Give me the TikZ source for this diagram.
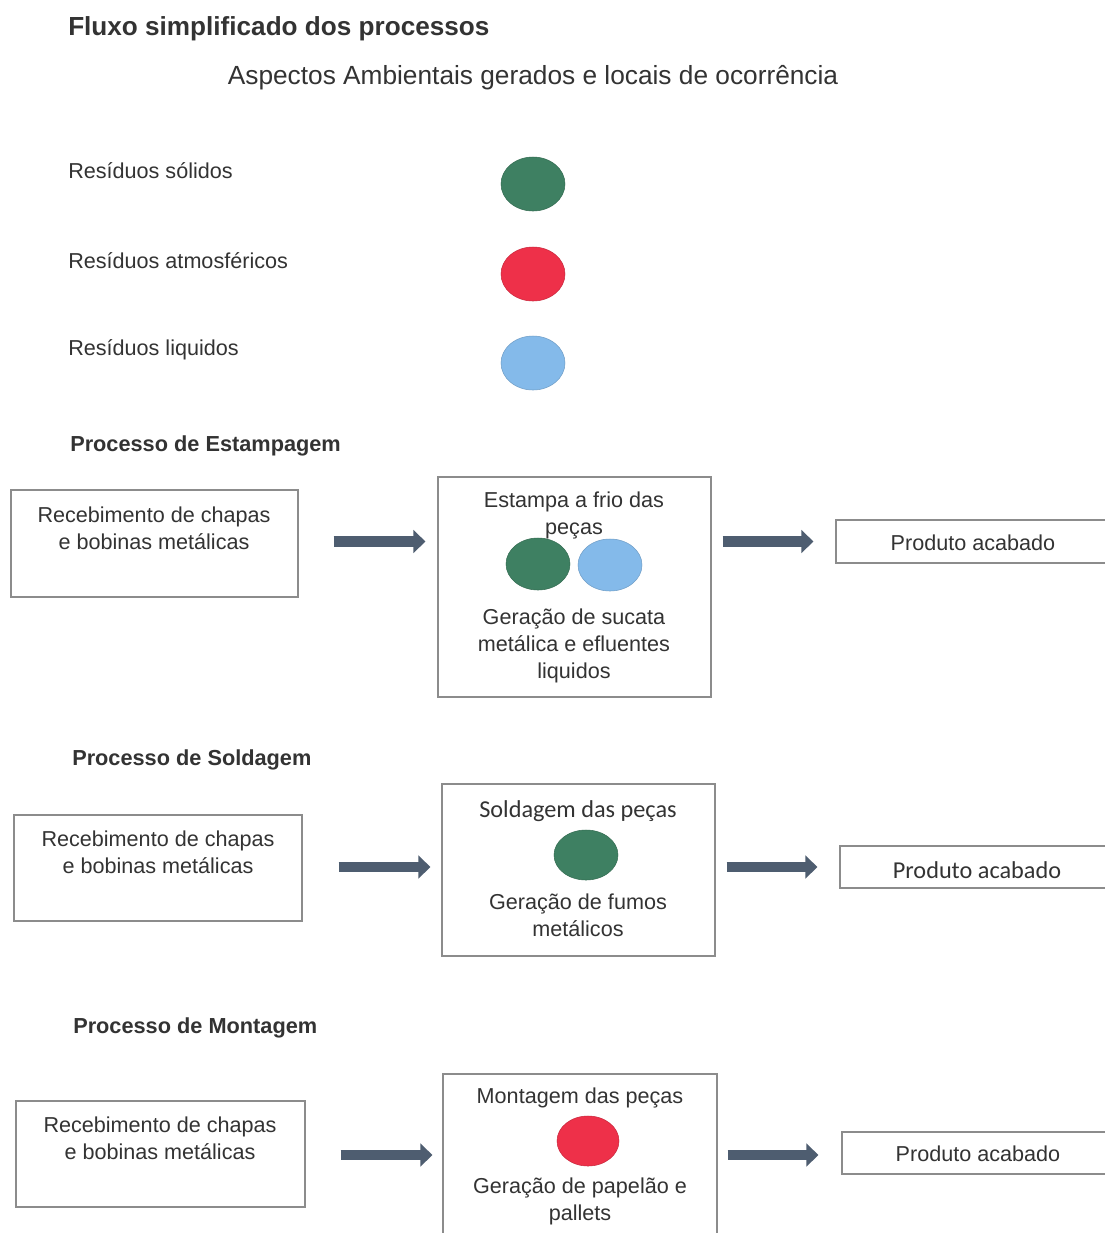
\documentclass[tikz,border=0pt]{standalone}
\usepackage{fontspec}
\setmainfont{Liberation Sans}
\newfontfamily\calib{Carlito}
\usetikzlibrary{arrows.meta,calc,shapes.geometric}
\definecolor{txt}{HTML}{333333}
\definecolor{boxline}{HTML}{8C8C8C}
\definecolor{arrowc}{HTML}{4E5D70}
\definecolor{cgreen}{HTML}{3E8062}
\definecolor{cred}{HTML}{EE3049}
\definecolor{cblue}{HTML}{84BAEA}
\tikzset{
  every node/.style={text=txt},
  box/.style={draw=boxline, line width=0.9pt, fill=white, inner sep=0pt},
  body/.style={font=\fontsize{16.2}{20.3}\selectfont, align=center, inner sep=0pt},
  bodyc/.style={font=\calib\fontsize{18.2}{22}\selectfont, align=center, inner sep=0pt},
  legtxt/.style={font=\fontsize{16.2}{20}\selectfont, anchor=west, inner sep=0pt},
  heading/.style={font=\bfseries\fontsize{16.3}{20}\selectfont, anchor=west, inner sep=0pt},
  blob/.style={ellipse, draw=#1!85!black, line width=0.4pt, fill=#1, inner sep=0pt},
  bigarrow/.style={draw=arrowc, line width=8pt, -{Triangle[length=9pt,width=17pt]}},
}
\begin{document}
\begin{tikzpicture}[x=0.75pt,y=-0.75pt]
\useasboundingbox (0,0) rectangle (1105,1233);
\clip (0,0) rectangle (1105,1233);
\fill[white] (0,0) rectangle (1105,1233);

% titles
\node[font=\bfseries\fontsize{19.6}{24}\selectfont, anchor=west, inner sep=0pt] (title) at (68,29) {Fluxo simplificado dos processos};
\node[font=\fontsize{19.7}{24}\selectfont, inner sep=0pt] (subtitle) at (533,78) {Aspectos Ambientais gerados e locais de ocorrência};

% legend
\node[legtxt] (l1) at (68,171) {Resíduos sólidos};
\node[legtxt] (l2) at (68,261) {Resíduos atmosféricos};
\node[legtxt] (l3) at (68,350) {Resíduos liquidos};
\node[blob=cgreen, minimum width=48pt, minimum height=40.5pt] (c1) at (533,184) {};
\node[blob=cred, minimum width=48pt, minimum height=40.5pt] (c2) at (533,274) {};
\node[blob=cblue, minimum width=48pt, minimum height=40.5pt] (c3) at (533,363) {};

% ---- Estampagem
\node[heading] (h1) at (70,446) {Processo de Estampagem};
\node[box, minimum width=215.25pt, minimum height=80.25pt] (lb1) at (154.5,543.5) {};
\node[box, minimum width=204.75pt, minimum height=165pt] (mb1) at (574.5,587) {};
\node[box, minimum width=205.5pt, minimum height=32.25pt] (pb1) at (973,541.5) {};
\node[body] (lt1) at (154,528) {Recebimento de chapas\\e bobinas metálicas};
\node[body] (mt1) at (574,515) {Estampa a frio das\\peças};
\node[blob=cgreen, minimum width=48pt, minimum height=39pt] (g1) at (538,564) {};
\node[blob=cblue, minimum width=48pt, minimum height=39pt] (b1) at (610,565) {};
\node[body] (mx1) at (574,645.5) {Geração de sucata\\metálica e efluentes\\liquidos};
\node[body] (pt1) at (973,543) {Produto acabado};
\draw[bigarrow, shorten <=26.25pt, shorten >=9pt] (lb1.east |- pb1.west) -- (mb1.west |- pb1.west);
\draw[bigarrow, shorten <=8.25pt, shorten >=16.5pt] (mb1.east |- pb1.west) -- (pb1.west);

% ---- Soldagem
\node[heading] (h2) at (72,760) {Processo de Soldagem};
\node[box, minimum width=216pt, minimum height=79.5pt] (lb2) at (158,868) {};
\node[box, minimum width=204.75pt, minimum height=129pt] (mb2) at (578.5,870) {};
\node[box, minimum width=202.5pt, minimum height=31.5pt] (pb2) at (975,867) {};
\node[body] (lt2) at (158,852.5) {Recebimento de chapas\\e bobinas metálicas};
\node[bodyc] (mt2) at (578,811) {Soldagem das peças};
\node[blob=cgreen, minimum width=48pt, minimum height=37.5pt] (g2) at (586,855) {};
\node[body] (mx2) at (578,915.5) {Geração de fumos\\metálicos};
\node[bodyc] (pt2) at (977,870) {Produto acabado};
\draw[bigarrow, shorten <=27pt, shorten >=8.25pt] (lb2.east |- pb2.west) -- (mb2.west |- pb2.west);
\draw[bigarrow, shorten <=8.25pt, shorten >=16.5pt] (mb2.east |- pb2.west) -- (pb2.west);

% ---- Montagem
\node[heading] (h3) at (73,1028) {Processo de Montagem};
\node[box, minimum width=216.75pt, minimum height=79.5pt] (lb3) at (160.5,1154) {};
\node[box, minimum width=205.5pt, minimum height=128.25pt] (mb3) at (580,1159.5) {};
\node[box, minimum width=201pt, minimum height=31.5pt] (pb3) at (976,1153) {};
\node[body] (lt3) at (160,1138.5) {Recebimento de chapas\\e bobinas metálicas};
\node[body] (mt3) at (580,1098) {Montagem das peças};
\node[blob=cred, minimum width=46.5pt, minimum height=37.5pt] (r3) at (588,1141) {};
\node[body] (mx3) at (580,1201.5) {Geração de papelão e\\pallets};
\node[body] (pt3) at (978,1154) {Produto acabado};
\coordinate (a3y) at (0,1155);
\draw[bigarrow, shorten <=26.25pt, shorten >=7.5pt] (lb3.east |- a3y) -- (mb3.west |- a3y);
\draw[bigarrow, shorten <=7.5pt, shorten >=17.25pt] (mb3.east |- a3y) -- (pb3.west |- a3y);
\end{tikzpicture}
\end{document}
